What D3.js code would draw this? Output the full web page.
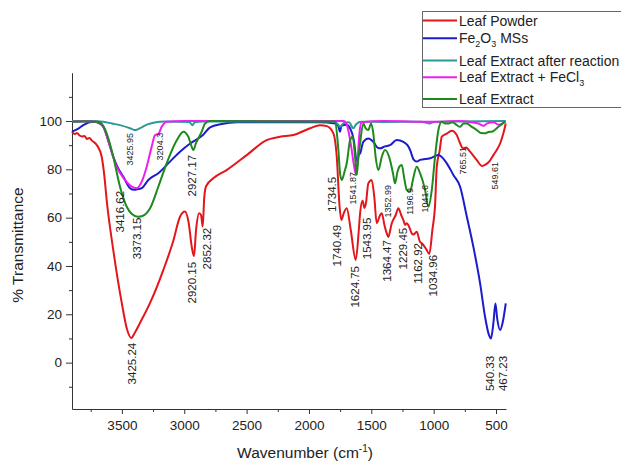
<!DOCTYPE html>
<html>
<head>
<meta charset="utf-8">
<script src="https://cdn.jsdelivr.net/npm/d3@7"></script>
<style>
  body { margin: 0; background: #fff; }
  text { font-family: "Liberation Sans", Arial, sans-serif; fill: #222; }
</style>
</head>
<body>
<div id="my_dataviz"></div>
<script>
// spectra: [wavenumber (cm-1), % transmittance]
var leafPowder = [[3900,95.6],[3880,94.6],[3860,95],[3840,94],[3820,93.6],[3800,93.8],[3780,92.6],[3760,93],[3742,92],
  [3700,90],[3662,85.2],[3640,77],[3622,67.3],[3569,46.6],[3501,24.7],[3460,14],[3425,10.2],[3395,12.5],[3355,16.4],
  [3274,24.7],[3168,38.3],[3090,50],[3034,60.4],[2994,62.5],[2965,58],[2940,48],[2922,44],[2905,55],[2880,61.8],
  [2865,61],[2852,56.3],[2840,68],[2825,73],[2767,76.3],[2660,79.7],[2499,85.9],[2339,92.1],[2232,93.5],[2125,94.2],
  [1991,97],[1911,98.3],[1857,97.9],[1804,94.9],[1777,85.2],[1755,65],[1740,59],[1720,62],[1697,63.9],[1665,55],
  [1625,42.5],[1600,55],[1590,61.8],[1570,67],[1555,64],[1543,66],[1524,74.2],[1497,75.6],[1475,68],[1457,57.7],
  [1430,61],[1416,61.8],[1395,57],[1376,53.5],[1364,52],[1336,57.7],[1305,61],[1283,63.9],[1260,61],[1243,59],
  [1229,57],[1216,57.7],[1195,56],[1176,53.5],[1162,53],[1136,54.2],[1110,50],[1095,49.4],[1060,47],[1035,45],
  [1010,55],[989,65],[975,81.1],[951,88],[935,93.5],[895,94.8],[855,96],[815,94.2],[790,91],[765,88.7],[740,89],
  [708,87.3],[655,83.9],[614,81.4],[588,81.8],[550,83.5],[520,86],[494,88],[465,91],[441,94.9],[422,99]];

var fe2o3 = [[3900,95.6],[3860,96.5],[3809,98.3],[3760,99.5],[3716,99.7],[3680,99],[3649,97.6],[3610,92],[3569,85.2],
  [3530,80.5],[3489,77],[3435,72.2],[3400,71.5],[3370,71.8],[3341,72.2],[3288,75.6],[3208,78.4],[3114,83.2],[3034,87.3],
  [2950,90.8],[2850,94.2],[2793,97.4],[2700,98.8],[2579,99.5],[2312,99.5],[1911,99.5],[1790,99],[1765,98],[1751,95.6],
  [1740,98],[1700,98.5],[1670,97],[1640,92],[1617,83.5],[1600,86],[1590,86.6],[1564,91.4],[1524,92.8],[1484,91.4],
  [1450,89],[1430,88.7],[1390,89.5],[1350,90],[1296,92.1],[1243,91.4],[1210,90],[1189,88],[1160,84],[1136,83.2],
  [1109,83.9],[1029,84.6],[962,85.9],[895,82.5],[842,77.7],[788,72.8],[734,60.4],[682,48],[628,32.9],[588,19],
  [560,12],[540,10],[520,17],[505,24.5],[490,18],[467,13.5],[445,17],[422,24.5]];

var extractAfter = [[3900,100],[3750,100],[3649,99.7],[3580,99],[3515,98.3],[3435,97],[3400,96.3],[3380,96.4],
  [3341,97.4],[3290,98.7],[3248,99.3],[3150,99.8],[2960,99.6],[2935,98.3],[2915,99.5],[2850,99.8],[1800,99.8],
  [1765,98.5],[1751,97.6],[1720,99.2],[1680,99.5],[1644,97],[1620,98.8],[1580,99.7],[1400,99.6],[1100,99.7],
  [1030,99],[1000,99.6],[800,99.8],[422,100]];

var extractFeCl3 = [[3900,99.8],[3750,99.8],[3702,99.7],[3649,97.6],[3595,89.4],[3542,81.1],[3475,75.6],[3421,72.8],
  [3381,72.2],[3341,74.9],[3301,81.1],[3261,89.4],[3234,94.2],[3208,94.6],[3181,97.6],[3141,99.7],[3000,100],
  [2000,100],[1720,100],[1700,99],[1680,95],[1660,89],[1640,82],[1625,78],[1610,84],[1595,95],[1580,99.5],
  [1400,100],[1000,99.7],[800,100],[700,99.5],[640,99],[600,98],[570,99],[520,99.5],[480,98.5],[422,99.8]];

var leafExtract = [[3900,99.7],[3800,99.8],[3689,99.7],[3650,98],[3622,94.9],[3569,85.2],[3515,72.8],[3461,64.5],
  [3420,61.5],[3373,60.4],[3341,60.6],[3300,62],[3274,63.9],[3208,72.8],[3141,82.5],[3114,86],[3060,92],[3007,95.6],
  [2967,93.5],[2945,90],[2927,88],[2905,91],[2887,92.8],[2860,95.6],[2833,99],[2793,100],[1800,99.8],[1791,99.7],
  [1764,88],[1750,78],[1737,75.6],[1715,79],[1697,82.5],[1670,92.1],[1649,93.5],[1630,85],[1617,77.7],[1605,84],
  [1590,90.8],[1564,99],[1545,97],[1524,96.3],[1502,99],[1484,94.9],[1465,85],[1443,79.7],[1416,85.2],[1390,88],
  [1350,83.9],[1325,78],[1310,74.2],[1290,79],[1275,81.1],[1256,81.8],[1235,76],[1216,71.5],[1189,70.7],[1165,76],
  [1136,81.1],[1109,78.4],[1069,71.5],[1042,64.5],[1015,71.5],[989,85.2],[962,96.3],[935,99.7],[910,99],[882,99],
  [850,99.5],[820,98.5],[788,97.6],[760,99],[734,99],[694,97.6],[655,96.3],[620,95],[588,94.9],[560,95.5],
  [534,95.6],[481,97.6],[428,99.7]];

var seriesNames = ["Leaf Powder", "Fe2O3 MSs", "Leaf Extract after reaction", "Leaf Extract + FeCl3", "Leaf Extract"];
var seriesData = [leafPowder, fe2o3, extractAfter, extractFeCl3, leafExtract];
var seriesColors = ["#e3161c", "#1c1ccc", "#2a9a98", "#ee1fee", "#1e8a1e"];

var xTicks = [3500, 3000, 2500, 2000, 1500, 1000, 500];
var yTicks = [0, 20, 40, 60, 80, 100];

// peak labels: [text, wavenumber, %T] where the top of the label sits
var peakLabels = [["3416.62",3515,71.1],["3373.15",3379,60],["2927.17",2938,86],["2920.15",2938,41.7],
  ["2852.32",2818,55.8],["3425.24",3419,8.2],["1734.5",1815,76.9],["1740.49",1775,57],["1624.75",1631,40],
  ["1543.95",1535,60],["1364.47",1374,50.7],["1229.45",1246,55.8],["1162.92",1126,49.5],["1034.96",1005,44.6],
  ["540.33",548,2.8],["467.23",444,2.8]];
var smallPeakLabels = [["3425.95",3435,95.1],["3204.3",3194,95.1],["1541.87",1647,78.9],["1352.99",1366,73.5],
  ["1196.9",1190,72.3],["1041.6",1070,73.5],["765.51",765,89.3],["549.61",508,83]];

var width = 621, height = 463;
var svg = d3.select("#my_dataviz")
  .append("svg")
    .attr("width", width)
    .attr("height", height);

var x = d3.scaleLinear().domain([3900, 420]).range([72, 506]);
var y = d3.scaleLinear().domain([-19.2, 120]).range([409, 72.7]);

// minor ticks first, then major axes
svg.append("g")
  .attr("transform", "translate(0,409)")
  .call(d3.axisBottom(x).tickValues([3750, 3250, 2750, 2250, 1750, 1250, 750]).tickSize(3).tickFormat(""))
  .call(function(g) { g.select(".domain").remove(); });
svg.append("g")
  .attr("transform", "translate(72,0)")
  .call(d3.axisLeft(y).tickValues([-10, 10, 30, 50, 70, 90, 110]).tickSize(3).tickFormat(""))
  .call(function(g) { g.select(".domain").remove(); });

var xAxis = svg.append("g")
  .attr("transform", "translate(0,409)")
  .call(d3.axisBottom(x).tickValues(xTicks).tickSize(5).tickSizeOuter(0).tickPadding(6).tickFormat(d3.format("d")));
var yAxis = svg.append("g")
  .attr("transform", "translate(72,0)")
  .call(d3.axisLeft(y).tickValues(yTicks).tickSize(6).tickSizeOuter(0).tickPadding(4));

svg.selectAll(".tick line, .domain").attr("stroke", "#333").attr("stroke-width", 1);
svg.selectAll(".tick text").style("font-size", "13.5px").attr("fill", "#222");

// curves
var line = d3.line()
  .x(function(d) { return x(d[0]); })
  .y(function(d) { return y(d[1]); })
  .curve(d3.curveMonotoneX);

svg.append("g")
  .selectAll("path")
  .data(seriesData)
  .enter()
  .append("path")
    .attr("d", line)
    .attr("fill", "none")
    .attr("stroke", function(d, i) { return seriesColors[i]; })
    .attr("stroke-width", 2)
    .attr("stroke-linejoin", "round");

// peak labels, rotated
function addLabels(data, size) {
  svg.append("g")
    .selectAll("text")
    .data(data)
    .enter()
    .append("text")
      .attr("transform", function(d) { return "translate(" + x(d[1]) + "," + y(d[2]) + ") rotate(-90)"; })
      .attr("text-anchor", "end")
      .attr("dominant-baseline", "central")
      .style("font-size", size)
      .text(function(d) { return d[0]; });
}
addLabels(peakLabels, "11.5px");
addLabels(smallPeakLabels, "9px");

// axis titles
var xt = svg.append("text")
  .attr("x", 305)
  .attr("y", 458)
  .attr("text-anchor", "middle")
  .style("font-size", "15.5px");
xt.append("tspan").text("Wavenumber (cm");
xt.append("tspan").attr("dy", -6).style("font-size", "10px").text("-1");
xt.append("tspan").attr("dy", 6).text(")");

svg.append("text")
  .attr("transform", "translate(23,245) rotate(-90)")
  .attr("text-anchor", "middle")
  .style("font-size", "15.5px")
  .text("% Transmittance");

// legend
var legendRows = [20.5, 38.3, 60.5, 77.3, 99];
var legend = svg.append("g");
legend.append("rect")
  .attr("x", 422.5).attr("y", 11.5)
  .attr("width", 220).attr("height", 96)
  .attr("fill", "#fff").attr("stroke", "#666").attr("stroke-width", 1);

legend.selectAll("line")
  .data(seriesNames)
  .enter()
  .append("line")
    .attr("x1", 423).attr("x2", 457)
    .attr("y1", function(d, i) { return legendRows[i]; })
    .attr("y2", function(d, i) { return legendRows[i]; })
    .attr("stroke", function(d, i) { return seriesColors[i]; })
    .attr("stroke-width", 2);

legend.selectAll("text.lg")
  .data(seriesNames)
  .enter()
  .append("text")
    .attr("class", "lg")
    .attr("x", 459)
    .attr("y", function(d, i) { return legendRows[i] + 5; })
    .style("font-size", "14px")
    .each(function(d) {
      var t = d3.select(this);
      // subscript digits in the chemical formulas
      var shift = 0;
      d.split(/(\d)/).forEach(function(p) {
        if (p === "") return;
        var sub = /\d/.test(p) ? 3.5 : 0;
        var ts = t.append("tspan").attr("dy", sub - shift).text(p);
        if (sub) ts.style("font-size", "9px");
        shift = sub;
      });
    });
</script>
</body>
</html>
